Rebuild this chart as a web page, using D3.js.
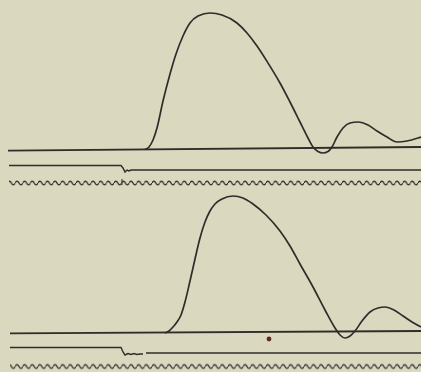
<!DOCTYPE html>
<html>
<head>
<meta charset="utf-8">
<script src="https://cdn.jsdelivr.net/npm/d3@7"></script>
<style>
  html, body { margin: 0; padding: 0; background: #dbd8c0; }
  svg { display: block; }
</style>
</head>
<body>
<div id="chart"></div>
<script>
// record units: x along the drum, h = height above the panel's zero line

// upper tracing
const topCurve = [
    [145, -1.5], [149, 1], [153, 8], [157, 20], [163, 47], [170, 74], [176, 94],
    [183, 112], [190, 125], [198, 132], [210, 135], [222, 133], [237, 125],
    [247, 115], [257, 102], [268, 85], [280, 65], [290, 46], [300, 26],
    [308, 10], [313, 1], [318, -3.5], [323, -5], [328, -3.5], [332, 1],
    [337, 11], [343, 20], [350, 25], [358, 26], [368, 23], [377, 17],
    [387, 11], [397, 6], [407, 7], [418, 10], [421, 11]
];
const topBaseline = [[8, -2.7], [421, 1]];
const topSignal = [
    [9, -17.5], [121, -17.5], [123, -20], [125, -24], [127, -22], [129, -23],
    [131, -22], [421, -22]
];
const topTimeTrace = [9, 421, -35];
const topMarks = [122];

// lower tracing
const bottomCurve = [
    [165, -1], [169, 1], [173, 5], [177, 10], [181, 17], [185, 30], [190, 51],
    [195, 73], [200, 94], [205, 110], [210, 121], [215, 128], [222, 133],
    [233, 136], [243, 134], [253, 128], [266, 117], [280, 101], [290, 86],
    [300, 68], [313, 45], [325, 22], [335, 4], [340, -3], [345, -6],
    [350, -4], [355, 1], [362, 11], [370, 20], [378, 24], [385, 25],
    [394, 22], [403, 16], [412, 10], [421, 5]
];
const bottomBaseline = [[10, -1.3], [421, 1]];
const bottomSignal = [
    [10, -15.5], [121, -15.5], [123, -20], [125, -23], [128, -21.5],
    [131, -22.5], [134, -21.5], [137, -22.5], [140, -22], [143, -22]
];
const bottomSignalRest = [[146, -21], [421, -21]];
const bottomTimeTrace = [10, 421, -34.5];
const stain = [269, -7];

const width = 421;
const height = 372;
const ink = '#2e2d29';

const x = d3.scaleLinear().domain([0, 421]).range([0, width]);

const svg = d3.select('#chart').append('svg')
    .attr('width', width)
    .attr('height', height);

svg.append('rect')
    .attr('width', width)
    .attr('height', height)
    .attr('fill', '#dbd8c0');

// tuning fork wave as a repeating tile
const period = 7.6;
const defs = svg.append('defs');
const makeWave = (id, yCenter) => {
    const p = defs.append('pattern')
        .attr('id', id)
        .attr('patternUnits', 'userSpaceOnUse')
        .attr('x', 0)
        .attr('y', yCenter - 4)
        .attr('width', period)
        .attr('height', 8);
    p.append('path')
        .attr('d', `M0,4 C1.3,1.4 2.5,1.4 3.8,4 C5.1,6.6 6.3,6.6 ${period},4`)
        .attr('fill', 'none')
        .attr('stroke', ink)
        .attr('stroke-width', 1.3);
};

const drawPanel = (zero, curve, baseline, signals, trace, id) => {
    const y = d3.scaleLinear().domain([0, 100]).range([zero, zero - 100]);
    const straight = d3.line().x(d => x(d[0])).y(d => y(d[1]));
    const smooth = d3.line()
        .x(d => x(d[0])).y(d => y(d[1]))
        .curve(d3.curveMonotoneX);
    const g = svg.append('g');

    g.append('path')
        .attr('d', straight(baseline))
        .attr('fill', 'none')
        .attr('stroke', ink)
        .attr('stroke-width', 1.8);

    signals.forEach(s => {
        g.append('path')
            .attr('d', straight(s))
            .attr('fill', 'none')
            .attr('stroke', ink)
            .attr('stroke-width', 1.4);
    });

    g.append('path')
        .attr('d', smooth(curve))
        .attr('fill', 'none')
        .attr('stroke', ink)
        .attr('stroke-width', 1.7)
        .attr('stroke-linejoin', 'round');

    makeWave(id, y(trace[2]));
    g.append('rect')
        .attr('x', x(trace[0]))
        .attr('y', y(trace[2]) - 4)
        .attr('width', x(trace[1]) - x(trace[0]))
        .attr('height', 8)
        .attr('fill', `url(#${id})`);
    return y;
};

const yTop = drawPanel(148, topCurve, topBaseline, [topSignal], topTimeTrace, 'wave-top');
const yBottom = drawPanel(332, bottomCurve, bottomBaseline,
    [bottomSignal, bottomSignalRest], bottomTimeTrace, 'wave-bottom');

// small time mark on the upper wave
svg.selectAll('.mark')
    .data(topMarks)
    .enter().append('line')
        .attr('x1', d => x(d))
        .attr('x2', d => x(d))
        .attr('y1', yTop(topTimeTrace[2]) + 2)
        .attr('y2', yTop(topTimeTrace[2]) - 4)
        .attr('stroke', ink)
        .attr('stroke-width', 1);

// ink spot on the lower record
svg.append('circle')
    .attr('cx', x(stain[0]))
    .attr('cy', yBottom(stain[1]))
    .attr('r', 2.4)
    .attr('fill', '#5e2a20');
</script>
</body>
</html>
